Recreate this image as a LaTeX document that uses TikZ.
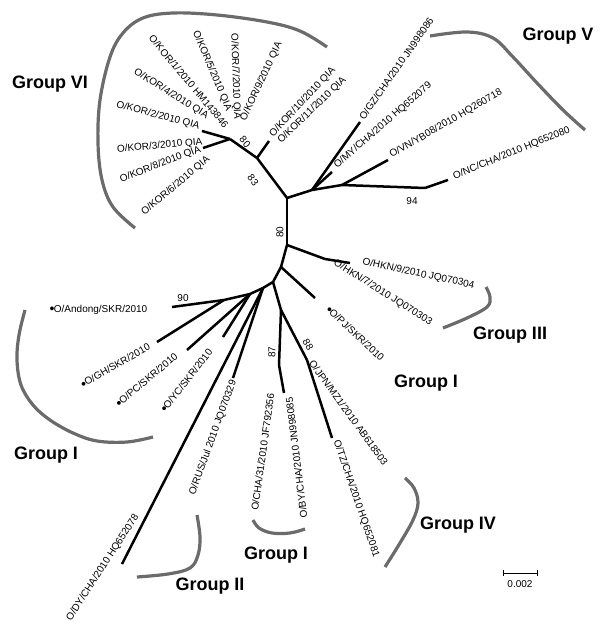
\documentclass[tikz,border=0pt]{standalone}
\usepackage{fontspec}
\setmainfont{Liberation Sans}
\newcommand\tdot{\raisebox{-1.2pt}{\fontsize{14}{14}\selectfont•}\kern-0.6pt}
\begin{document}
\begin{tikzpicture}[x=1pt, y=-1pt, line join=round,
    branch/.style={line width=2.5pt},
    bracket/.style={line width=3.2pt, black!58},
    every node/.style={font=\fontsize{10}{12}\selectfont, inner sep=0.5pt},
    grp/.style={font=\fontsize{18}{20}\selectfont\bfseries, inner sep=0pt}]
  \useasboundingbox (0,0) rectangle (600,628);
  % inner nodes
  \coordinate (A) at (287,198); \coordinate (B) at (287,245); \coordinate (C) at (281,267);
  \coordinate (D) at (273,282); \coordinate (H) at (263,288); \coordinate (G) at (250,294);
  \coordinate (I) at (224,300); \coordinate (E) at (281,310); \coordinate (F) at (279,365);
  \coordinate (O) at (307,360); \coordinate (J) at (257,158); \coordinate (K) at (230,139);
  \coordinate (L) at (312,190); \coordinate (M) at (342,185); \coordinate (N) at (425,188);
  \coordinate (P) at (325,259);
  % tips
  \coordinate (hkn9) at (350,263); \coordinate (pj) at (315,298); \coordinate (andong) at (172,307);
  \coordinate (gh) at (157,342); \coordinate (pc) at (187,350); \coordinate (yc) at (223,337);
  \coordinate (dy) at (122,564); \coordinate (rus) at (233,378); \coordinate (by) at (284,393);
  \coordinate (tz) at (332,438); \coordinate (kor2) at (202,131); \coordinate (kor3) at (203,148);
  \coordinate (kor10) at (269,141); \coordinate (gz) at (360,122); \coordinate (my) at (332,172);
  \coordinate (vn) at (388,160); \coordinate (nc) at (448,180);
  \foreach \a/\b in {A/B, B/C, C/D, D/H, H/G, G/I, I/andong, I/gh, G/pc, G/yc, H/dy, H/rus,
      D/E, E/F, F/by, E/O, O/tz, C/pj, B/P, P/hkn9, A/J, J/kor10, J/K, K/kor2, K/kor3,
      A/L, L/gz, L/my, L/M, M/vn, M/N, N/nc}
    \draw[branch] (\a) -- (\b);
  % taxa
  \node[anchor=east, rotate=-15] (t1) at (200,127) {O/KOR/2/2010 QIA};
  \node[anchor=east, rotate=5] (t2) at (203,142) {O/KOR/3/2010 QIA};
  \node[anchor=east, rotate=21] (t3) at (201,149) {O/KOR/8/2010 QIA};
  \node[anchor=east, rotate=40] (t4) at (209,158) {O/KOR/6/2010 QIA};
  \node[anchor=east, rotate=-32] (t5) at (208,117) {O/KOR/4/2010 QIA};
  \node[anchor=east, rotate=-50] (t6) at (227,127) {O/KOR/1/2010 HM143846};
  \node[anchor=east, rotate=-67] (t7) at (229,111) {O/KOR/5/2010 QIA};
  \node[anchor=east, rotate=-88] (t8) at (237,120) {O/KOR/7/2010 QIA};
  \node[anchor=west, rotate=65] (t9) at (243,121) {O/KOR/9/2010 QIA};
  \node[anchor=west, rotate=47] (t10) at (271,136) {O/KOR/10/2010 QIA};
  \node[anchor=west, rotate=44] (t11) at (279,142) {O/KOR/11/2010 QIA};
  \node[anchor=west, rotate=55] (t12) at (361,119) {O/GZ/CHA/2010 JN998086};
  \node[anchor=west, rotate=41] (t13) at (335,167) {O/MY/CHA/2010 HQ652079};
  \node[anchor=west, rotate=30] (t14) at (390,156) {O/VN/YB08/2010 HQ260718};
  \node[anchor=west, rotate=22] (t15) at (453,177) {O/NC/CHA/2010 HQ652080};
  \node[anchor=west, rotate=-12] (t16) at (362,262) {O/HKN/9/2010 JQ070304};
  \node[anchor=west, rotate=-32] (t17) at (334,262) {O/HKN/7/2010 JQ070303};
  \node[anchor=west, rotate=-43] (t18) at (327,308) {\tdot O/PJ/SKR/2010};
  \node[anchor=west, rotate=-54] (t19) at (311,361) {O/JPN/MZ1/2010 AB618503};
  \node[anchor=west, rotate=-71] (t20) at (336,440) {O/TZ/CHA/2010 HQ652081};
  \node[anchor=east, rotate=97] (t21) at (289,397) {O/BY/CHA/2010 JN998085};
  \node[anchor=east, rotate=82] (t22) at (271,393) {O/CHA/31/2010 JF792356};
  \node[anchor=east, rotate=70] (t23) at (234,380) {O/RUS/Jul 2010 JQ070329};
  \node[anchor=east, rotate=57] (t24) at (137,515) {O/DY/CHA/2010 HQ652078};
  \node[anchor=east, rotate=30] (t25) at (150,346) {\tdot O/GH/SKR/2010};
  \node[anchor=east, rotate=40] (t26) at (177,355) {\tdot O/PC/SKR/2010};
  \node[anchor=east, rotate=52] (t27) at (211,350) {\tdot O/YC/SKR/2010};
  \node[anchor=east] (t28) at (148,310) {\tdot O/Andong/SKR/2010};
  % bootstrap values
  \node[rotate=90] (b1) at (280,232) {80};
  \node[rotate=-53] (b2) at (253,180) {83};
  \node[rotate=-50] (b3) at (245,142) {80};
  \node (b4) at (183,298) {90};
  \node (b5) at (412,201) {94};
  \node[rotate=90] (b6) at (272,352) {87};
  \node[rotate=-60] (b7) at (308,345) {88};
  % groups
  \draw[bracket] plot[smooth, tension=0.6] coordinates {(135,228) (113,207) (102,180) (98,143)
    (100,100) (110,57) (123,33) (143,18) (173,13) (217,15) (267,22) (300,31) (327,47)};
  \draw[bracket] plot[smooth, tension=0.6] coordinates {(430,36) (467,32) (493,38) (513,57)
    (537,83) (563,110) (585,130)};
  \draw[bracket] plot[smooth, tension=0.6] coordinates {(486,287) (490,297) (487,307) (467,318) (443,328)};
  \draw[bracket] plot[smooth, tension=0.6] coordinates {(25,310) (19,335) (17,360) (21,385)
    (33,405) (50,420) (73,433) (97,441) (127,442) (153,437)};
  \draw[bracket] plot[smooth, tension=0.6] coordinates {(197,515) (200,537) (198,555) (190,568) (168,574) (137,577)};
  \draw[bracket] plot[smooth, tension=0.6] coordinates {(253,520) (259,528) (272,533) (290,533) (305,529)};
  \draw[bracket] plot[smooth, tension=0.6] coordinates {(405,478) (414,488) (418,503) (413,520) (400,543) (385,567)};
  \node[grp] (g6) at (50,84) {Group VI};
  \node[grp] (g5) at (558,36) {Group V};
  \node[grp] (g3) at (510,335) {Group III};
  \node[grp] (g1a) at (426,383) {Group I};
  \node[grp] (g1b) at (46,455) {Group I};
  \node[grp] (g2) at (210,586) {Group II};
  \node[grp] (g1c) at (276,555) {Group I};
  \node[grp] (g4) at (458,525) {Group IV};
  % scale
  \coordinate (s0) at (503,573); \coordinate (s1) at (537,573);
  \draw[line width=0.8pt] (s0) -- (s1);
  \draw[line width=0.8pt] ([yshift=-3pt]s0) -- ([yshift=3pt]s0) ([yshift=-3pt]s1) -- ([yshift=3pt]s1);
  \node (sc) at (520,584) {0.002};
\end{tikzpicture}
\end{document}
